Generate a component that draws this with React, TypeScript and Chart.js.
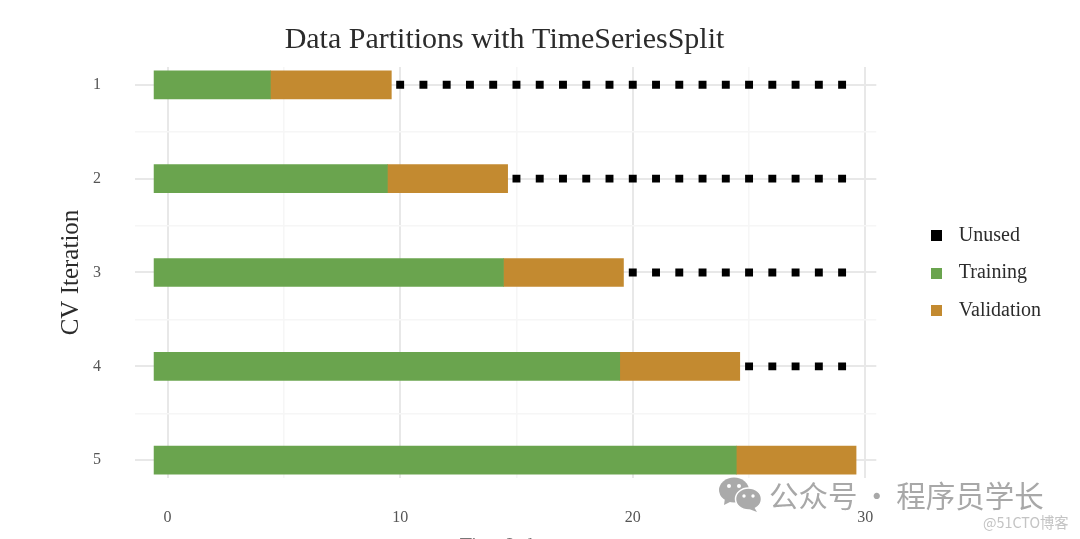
import React, { useEffect, useRef } from "react";
import { Chart, registerables } from "chart.js";

Chart.register(...registerables);

const iterations = [1, 2, 3, 4, 5];
const trainingStart = [-0.58, -0.58, -0.58, -0.58, -0.58];
const trainingEnd = [4.42, 9.45, 14.44, 19.44, 24.45];
const validationEnd = [9.62, 14.62, 19.6, 24.6, 29.6];
const unusedStart = [10, 15, 20, 25];
const unusedLast = 29;
const xTicks = [0, 10, 20, 30];
const yTicks = [1, 2, 3, 4, 5];
const seriesNames = ["Unused", "Training", "Validation"];
const seriesColors = ["#000000", "#6aa44e", "#c38a30"];

const FONT = '"Liberation Serif", "DejaVu Serif", serif';

const unusedPoints: { x: number; y: number }[] = [];
unusedStart.forEach((s, row) => {
  for (let x = s; x <= unusedLast; x++) unusedPoints.push({ x, y: iterations[row] });
});

function swatch(color: string) {
  const c = document.createElement("canvas");
  c.width = 11;
  c.height = 11;
  const g = c.getContext("2d")!;
  g.fillStyle = color;
  g.fillRect(0, 0, 11, 11);
  return c;
}

const moveBlocks = {
  id: "moveBlocks",
  afterLayout(chart: any) {
    const l = chart.legend;
    const dx = 30;
    const dy = -11;
    l.left += dx;
    l.right += dx;
    l.top += dy;
    l.bottom += dy;
    l.adjustHitBoxes();
    const t = chart.titleBlock;
    t.left -= 34;
    t.right -= 34;
  },
};

export default function App() {
  const ref = useRef<HTMLCanvasElement>(null);
  useEffect(() => {
    document.body.style.margin = "0";
    const swatches = seriesColors.map(swatch);
    const chart = new Chart(ref.current!, {
      type: "bar",
      plugins: [moveBlocks],
      data: {
        datasets: [
          {
            type: "line",
            label: seriesNames[0],
            data: unusedPoints,
            showLine: false,
            pointStyle: "rect",
            pointRadius: 5.6,
            pointBackgroundColor: seriesColors[0],
            pointBorderWidth: 0,
            backgroundColor: seriesColors[0],
            borderColor: seriesColors[0],
            order: 0,
          },
          {
            label: seriesNames[1],
            data: iterations.map((y, i) => ({ y, x: [trainingStart[i], trainingEnd[i]] })),
            backgroundColor: seriesColors[1],
            barThickness: 28,
            grouped: false,
            order: 1,
          },
          {
            label: seriesNames[2],
            data: iterations.map((y, i) => ({ y, x: [trainingEnd[i], validationEnd[i]] })),
            backgroundColor: seriesColors[2],
            barThickness: 28,
            grouped: false,
            order: 1,
          },
        ],
      } as any,
      options: {
        indexAxis: "y",
        responsive: false,
        animation: false,
        layout: { padding: { left: 56, right: 59, top: 6, bottom: 0 } },
        plugins: {
          title: {
            display: true,
            text: "Data Partitions with TimeSeriesSplit",
            font: { family: FONT, size: 30, weight: "normal" },
            color: "#2b2b2b",
            padding: { top: 16, bottom: 9 },
          },
          legend: {
            position: "right",
            align: "center",
            labels: {
              usePointStyle: true,
              pointStyleWidth: 25,
              boxHeight: 11,
              padding: 17.5,
              color: "#2b2b2b",
              font: { family: FONT, size: 20 },
              generateLabels: () =>
                seriesNames.map((text, i) => ({
                  text,
                  fontColor: "#2b2b2b",
                  pointStyle: swatches[i],
                  fillStyle: seriesColors[i],
                  strokeStyle: seriesColors[i],
                  lineWidth: 0,
                  hidden: false,
                  datasetIndex: i,
                })),
            },
          },
          tooltip: { enabled: false },
        },
        scales: {
          x: {
            type: "linear",
            min: -1.4,
            max: 30.47,
            afterBuildTicks: (s: any) => {
              s.ticks = [];
              for (let v = 0; v <= 30; v += 5) s.ticks.push({ value: v });
            },
            ticks: {
              autoSkip: false,
              maxRotation: 0,
              padding: 30,
              color: "#555555",
              font: { family: FONT, size: 16 },
              callback: (v: any) => (xTicks.includes(Number(v)) ? String(v) : ""),
            },
            grid: {
              drawTicks: false,
              color: (c: any) => (xTicks.includes(c.tick?.value) ? "#e8e8e8" : "#f6f6f6"),
              lineWidth: (c: any) => (xTicks.includes(c.tick?.value) ? 2 : 1.5),
            },
            border: { display: false },
            title: {
              display: true,
              text: "Time Index",
              font: { family: FONT, size: 20 },
              color: "#777777",
              padding: { top: 4, bottom: 3 },
            },
            afterFit: (s: any) => {
              s.height = 84;
            },
          },
          y: {
            type: "linear",
            reverse: true,
            offset: false,
            min: 0.81,
            max: 5.19,
            afterBuildTicks: (s: any) => {
              s.ticks = [];
              for (let v = 1; v <= 5; v += 0.5) s.ticks.push({ value: v });
            },
            ticks: {
              autoSkip: false,
              padding: 34,
              color: "#555555",
              font: { family: FONT, size: 16 },
              callback: (v: any) => (yTicks.includes(Number(v)) ? String(v) : ""),
            },
            grid: {
              offset: false,
              drawTicks: false,
              color: (c: any) => (yTicks.includes(c.tick?.value) ? "#e8e8e8" : "#f6f6f6"),
              lineWidth: (c: any) => (yTicks.includes(c.tick?.value) ? 2 : 1.5),
            },
            border: { display: false },
            title: {
              display: true,
              text: "CV Iteration",
              font: { family: FONT, size: 25 },
              color: "#2b2b2b",
              padding: { top: 0, bottom: 12 },
            },
            afterFit: (s: any) => {
              s.width = 79;
            },
          },
        },
      } as any,
    });
    return () => chart.destroy();
  }, []);

  return (
    <div style={{ position: "fixed", left: 0, top: 0, width: 1080, height: 539, overflow: "hidden", background: "#fff" }}>
      <canvas ref={ref} width={1080} height={562} style={{ display: "block" }} />
      <svg width="44" height="36" style={{ position: "absolute", left: 719, top: 477 }} viewBox="0 0 44 36">
        <ellipse cx="15" cy="13" rx="15" ry="12.5" fill="#aaaaaa" />
        <path d="M6 21 L5 28 L13 24 Z" fill="#aaaaaa" />
        <circle cx="10" cy="9" r="2" fill="#ffffff" />
        <circle cx="20" cy="9" r="2" fill="#ffffff" />
        <ellipse cx="29.5" cy="22" rx="13" ry="11" fill="#aaaaaa" stroke="#ffffff" strokeWidth="1.5" />
        <path d="M35 30 L38 35 L30 32 Z" fill="#aaaaaa" />
        <circle cx="25" cy="19" r="1.7" fill="#ffffff" />
        <circle cx="34" cy="19" r="1.7" fill="#ffffff" />
      </svg>
      <span style={{ position: "absolute", left: 769, top: 475, fontFamily: '"Noto Sans CJK SC"', fontSize: 29.5, lineHeight: "38px", wordSpacing: -2, color: "#a8a8a8", whiteSpace: "nowrap" }}>
        公众号 · 程序员学长
      </span>
      <span style={{ position: "absolute", left: 983, top: 513, fontFamily: '"Noto Sans CJK SC"', fontSize: 14.3, lineHeight: "18px", color: "#c4c4c4", whiteSpace: "nowrap" }}>
        @51CTO博客
      </span>
    </div>
  );
}
